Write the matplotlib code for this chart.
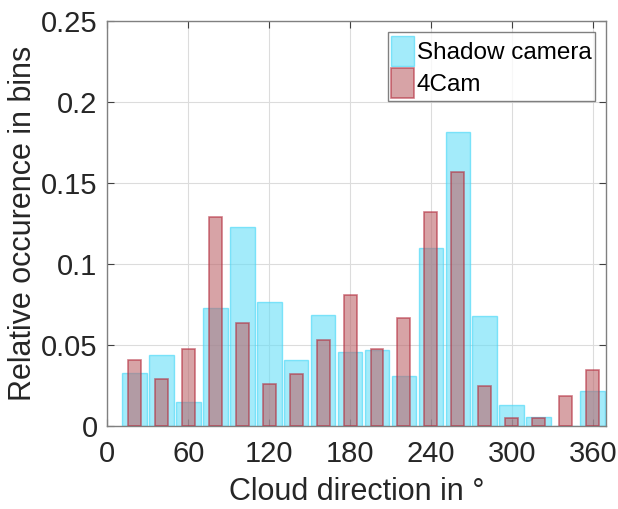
import numpy as np
import matplotlib.pyplot as plt
from matplotlib.ticker import FuncFormatter

plt.rcParams['font.family'] = ['Liberation Sans', 'DejaVu Sans']

# bin centres (deg) and relative occurrence per bin
bin_centres = np.arange(20, 361, 20)
shadow_cam = [0.033, 0.044, 0.015, 0.073, 0.123, 0.077, 0.041, 0.069, 0.046,
              0.047, 0.031, 0.110, 0.182, 0.068, 0.013, 0.006, 0.0, 0.022]
four_cam = [0.041, 0.029, 0.048, 0.129, 0.064, 0.026, 0.032, 0.053, 0.081,
            0.048, 0.067, 0.132, 0.157, 0.025, 0.005, 0.005, 0.019, 0.035]

fig = plt.figure(figsize=(6.18, 5.09), dpi=100)
ax = fig.add_axes([0.1736, 0.1625, 0.8074, 0.7955])

ax.bar(bin_centres, shadow_cam, width=18.4, color=(0.40, 0.87, 0.97),
       alpha=0.6, edgecolor=(0.25, 0.84, 0.97), linewidth=1.0,
       label='Shadow camera', zorder=2)
ax.bar(bin_centres, four_cam, width=9.6, color=(0.74, 0.40, 0.42),
       alpha=0.6, edgecolor=(0.70, 0.15, 0.22), linewidth=1.2,
       label='4Cam', zorder=3)

ax.set_xlim(0, 370)
ax.set_ylim(0, 0.25)
ax.set_xticks(np.arange(0, 361, 60))
ax.set_yticks(np.arange(0, 0.251, 0.05))
ax.yaxis.set_major_formatter(FuncFormatter(lambda v, p: ('%.2f' % v).rstrip('0').rstrip('.')))

ax.grid(True, color='#dcdcdc', linewidth=0.8, zorder=0)
ax.set_axisbelow(True)
ax.tick_params(direction='in', length=5, width=0.8, color='#404040',
               labelsize=21, labelcolor='#262626', top=True, right=True)
ax.tick_params(axis='x', pad=10)
ax.tick_params(axis='y', pad=7)
for s in ax.spines.values():
    s.set_color('#808080')
    s.set_linewidth(1.0)

ax.set_xlabel('Cloud direction in °', fontsize=22, color='#262626', labelpad=6)
ax.set_ylabel('Relative occurence in bins', fontsize=22, color='#262626', labelpad=2)

leg = ax.legend(loc='upper right', fontsize=17.5, frameon=True, fancybox=False,
                edgecolor='#606060', borderpad=0.15, handlelength=0.95,
                handleheight=1.5, handletextpad=0.1, labelspacing=0.1,
                borderaxespad=0.45)
leg.get_frame().set_linewidth(1.0)

fig.savefig('out.png', dpi=100)
